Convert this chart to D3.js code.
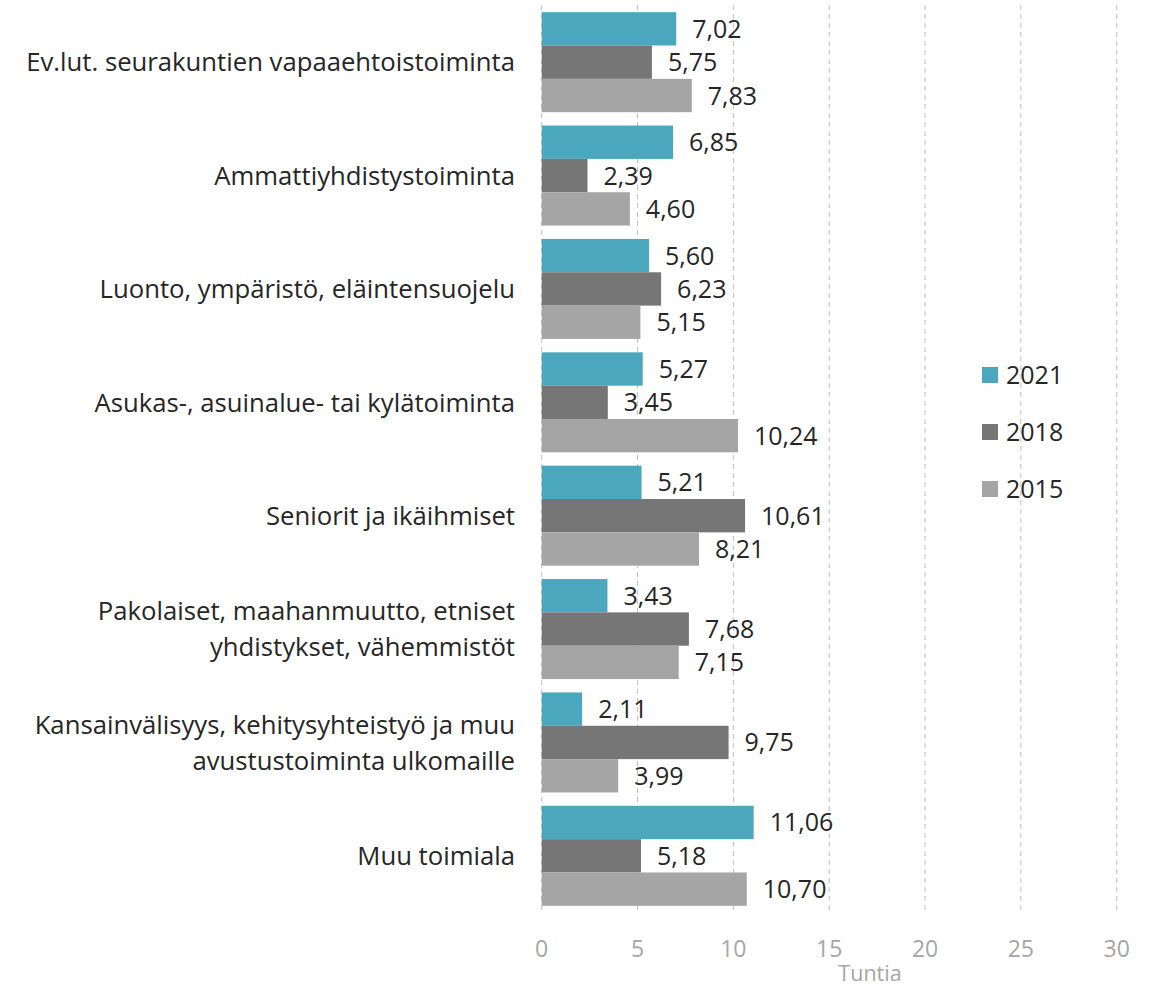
<!DOCTYPE html>
<html><head><meta charset="utf-8">
<script src="https://cdn.jsdelivr.net/npm/d3@7"></script>
<style>body{margin:0;background:#fff}svg{display:block}</style>
</head><body>
<script>
const categories = [
  ["Ev.lut. seurakuntien vapaaehtoistoiminta"],
  ["Ammattiyhdistystoiminta"],
  ["Luonto, ympäristö, eläintensuojelu"],
  ["Asukas-, asuinalue- tai kylätoiminta"],
  ["Seniorit ja ikäihmiset"],
  ["Pakolaiset, maahanmuutto, etniset", "yhdistykset, vähemmistöt"],
  ["Kansainvälisyys, kehitysyhteistyö ja muu", "avustustoiminta ulkomaille"],
  ["Muu toimiala"]
];
const seriesNames = ["2021", "2018", "2015"];
const values2021 = [7.02, 6.85, 5.60, 5.27, 5.21, 3.43, 2.11, 11.06];
const values2018 = [5.75, 2.39, 6.23, 3.45, 10.61, 7.68, 9.75, 5.18];
const values2015 = [7.83, 4.60, 5.15, 10.24, 8.21, 7.15, 3.99, 10.70];
const xTicks = [0, 5, 10, 15, 20, 25, 30];
const axisTitle = "Tuntia";
const colors = ["#4BA7BD", "#767676", "#A5A5A5"];

const W = 1153, H = 987;
const font = "'Open Sans', 'Noto Sans', sans-serif";
const svg = d3.select("body").append("svg").attr("width", W).attr("height", H);

const x = d3.scaleLinear().domain([0, 30]).range([541.7, 1116.7]);
const y0 = d3.scaleBand().domain(d3.range(categories.length)).range([5.5, 912.5]).paddingInner(0.118).paddingOuter(0.059);
const y1 = d3.scaleBand().domain(seriesNames).range([0, y0.bandwidth()]);

const seriesVals = [values2021, values2018, values2015];

// gridlines
svg.append("g").selectAll("line").data(xTicks).join("line")
  .attr("x1", d => x(d)).attr("x2", d => x(d))
  .attr("y1", 5).attr("y2", 913)
  .attr("stroke", "#BFBFBF").attr("stroke-width", 1).attr("stroke-dasharray", "5,4");

// bars
const groups = svg.append("g").selectAll("g").data(categories).join("g")
  .attr("transform", (d, i) => `translate(0,${y0(i)})`);

seriesNames.forEach((s, si) => {
  groups.append("rect")
    .attr("x", x(0))
    .attr("y", y1(s))
    .attr("width", (d, i) => x(seriesVals[si][i]) - x(0))
    .attr("height", y1.bandwidth())
    .attr("fill", colors[si]);
});

// value labels
seriesNames.forEach((s, si) => {
  groups.append("text")
    .attr("x", (d, i) => x(seriesVals[si][i]) + 16)
    .attr("y", y1(s) + y1.bandwidth() / 2)
    .attr("dy", "0.36em")
    .attr("font-family", font).attr("font-size", 25).attr("fill", "#262626")
    .text((d, i) => d3.format(".2f")(seriesVals[si][i]).replace(".", ","));
});

// category labels
groups.each(function(d) {
  const g = d3.select(this);
  const n = d.length;
  const lh = 36;
  d.forEach((line, li) => {
    g.append("text")
      .attr("x", 515)
      .attr("y", y0.bandwidth() / 2 + (li - (n - 1) / 2) * lh)
      .attr("dy", "0.36em")
      .attr("text-anchor", "end")
      .attr("font-family", font).attr("font-size", 25.7).attr("fill", "#262626")
      .text(line);
  });
});

// x axis tick labels
svg.append("g").selectAll("text").data(xTicks).join("text")
  .attr("x", d => x(d)).attr("y", 957)
  .attr("text-anchor", "middle")
  .attr("font-family", font).attr("font-size", 23).attr("fill", "#A6A6A6")
  .text(d => d);

svg.append("text").attr("x", 870).attr("y", 981)
  .attr("text-anchor", "middle")
  .attr("font-family", font).attr("font-size", 21.5).attr("fill", "#A6A6A6")
  .text(axisTitle);

// legend
const leg = svg.append("g").selectAll("g").data(seriesNames).join("g")
  .attr("transform", (d, i) => `translate(982,${367 + i * 57})`);
leg.append("rect").attr("width", 16).attr("height", 16).attr("fill", (d, i) => colors[i]);
leg.append("text").attr("x", 24).attr("y", 8).attr("dy", "0.36em")
  .attr("font-family", font).attr("font-size", 25).attr("fill", "#262626")
  .text(d => d);
</script>
</body></html>
